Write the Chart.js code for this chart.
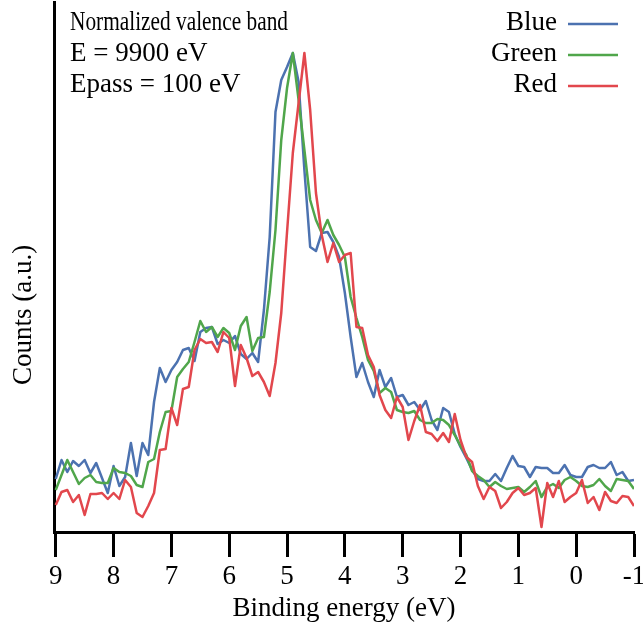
<!DOCTYPE html>
<html>
<head>
<meta charset="utf-8">
<script src="https://cdn.jsdelivr.net/npm/chart.js@4.4.0/dist/chart.umd.min.js"></script>
<style>
  html, body { margin: 0; padding: 0; background: #fff; }
</style>
</head>
<body>
<canvas id="myChart" width="643" height="628"></canvas>
<script>
// binding energy grid (eV), 0.1 eV steps
var energy = [9.0,8.9,8.8,8.7,8.6,8.5,8.4,8.3,8.2,8.1,
              8.0,7.9,7.8,7.7,7.6,7.5,7.4,7.3,7.2,7.1,
              7.0,6.9,6.8,6.7,6.6,6.5,6.4,6.3,6.2,6.1,
              6.0,5.9,5.8,5.7,5.6,5.5,5.4,5.3,5.2,5.1,
              5.0,4.9,4.8,4.7,4.6,4.5,4.4,4.3,4.2,4.1,
              4.0,3.9,3.8,3.7,3.6,3.5,3.4,3.3,3.2,3.1,
              3.0,2.9,2.8,2.7,2.6,2.5,2.4,2.3,2.2,2.1,
              2.0,1.9,1.8,1.7,1.6,1.5,1.4,1.3,1.2,1.1,
              1.0,0.9,0.8,0.7,0.6,0.5,0.4,0.3,0.2,0.1,
              0.0,-0.1,-0.2,-0.3,-0.4,-0.5,-0.6,-0.7,-0.8,-0.9,
              -1.0];

// counts (a.u.)
var blue = [53,72,60,71,66,72,59,69,54,39,
            66,46,55,89,56,89,77,130,164,150,
            162,170,182,184,171,200,204,205,188,192,
            189,196,178,173,179,170,222,295,420,452,
            465,479,450,362,285,281,299,300,290,275,
            239,195,155,169,150,135,162,145,154,135,
            137,127,130,122,131,112,102,124,120,98,
            85,74,62,53,51,51,58,51,64,76,
            66,65,55,65,64,64,59,59,67,57,
            55,55,65,67,64,64,70,57,60,51,
            52];

var green = [42,57,72,60,48,54,57,50,49,49,
             64,60,59,56,47,45,70,73,100,120,
             121,155,163,170,190,211,200,205,195,204,
             199,182,206,215,181,194,195,240,302,392,
             444,479,432,382,332,312,299,312,297,287,
             275,235,214,195,172,161,139,144,140,122,
             120,119,121,112,109,109,113,112,107,97,
             86,77,61,56,52,45,50,46,43,44,
             45,40,45,51,35,45,48,44,52,55,
             51,46,45,47,53,46,41,53,52,51,
             43];

var red = [27,40,42,30,37,17,38,38,39,33,
           39,33,52,45,19,15,26,39,82,83,
           124,107,143,145,182,193,189,190,180,200,
           194,146,187,174,156,160,150,136,169,219,
           300,379,429,479,422,339,297,270,289,270,
           277,279,205,204,177,165,137,122,114,135,
           125,92,111,127,100,98,91,99,90,118,
           92,75,70,46,33,45,41,24,30,39,
           44,37,39,44,5,49,35,51,30,35,
           39,52,29,35,22,40,31,29,36,35,
           26];

var xTicks = [9, 8, 7, 6, 5, 4, 3, 2, 1, 0, -1];
var seriesNames = ['Blue', 'Green', 'Red'];
var seriesColors = ['#4c72b0', '#50a64b', '#e2474d'];
var infoLines = ['Normalized valence band', 'E = 9900 eV', 'Epass = 100 eV'];

var serif = "'Liberation Serif', 'Times New Roman', serif";

function toPoints(ys) {
    return ys.map(function (y, i) { return { x: energy[i], y: y }; });
}

// text box top-left, legend top-right, rotated y title
var overlay = {
    id: 'overlay',
    afterDraw: function (chart) {
        var ctx = chart.ctx;
        ctx.save();
        ctx.fillStyle = '#000';
        ctx.font = '27px ' + serif;
        ctx.textBaseline = 'middle';

        ctx.textAlign = 'left';
        // first line is set narrower in the original
        ctx.fillText(infoLines[0], 70, 23, 218);
        for (var i = 1; i < infoLines.length; i++) {
            ctx.fillText(infoLines[i], 70, 23 + i * 31);
        }

        ctx.textAlign = 'right';
        for (var j = 0; j < seriesNames.length; j++) {
            var y = 23 + j * 31;
            ctx.fillStyle = '#000';
            ctx.fillText(seriesNames[j], 557, y);
            ctx.strokeStyle = seriesColors[j];
            ctx.lineWidth = 2.5;
            ctx.beginPath();
            ctx.moveTo(568, y + 1);
            ctx.lineTo(618, y + 1);
            ctx.stroke();
        }

        ctx.translate(24, 315);
        ctx.rotate(-Math.PI / 2);
        ctx.textAlign = 'center';
        ctx.fillStyle = '#000';
        ctx.fillText('Counts (a.u.)', 0, 0);
        ctx.restore();
    }
};

var ctx = document.getElementById('myChart').getContext('2d');
var chart = new Chart(ctx, {
    type: 'line',
    data: {
        datasets: [
            { label: seriesNames[0], data: toPoints(blue), borderColor: seriesColors[0], order: 3 },
            { label: seriesNames[1], data: toPoints(green), borderColor: seriesColors[1], order: 2 },
            { label: seriesNames[2], data: toPoints(red), borderColor: seriesColors[2], order: 1 }
        ]
    },
    options: {
        responsive: false,
        animation: false,
        layout: { padding: { top: 2, right: 9, left: 0, bottom: 0 }, autoPadding: false },
        elements: {
            line: { borderWidth: 2.5, tension: 0, fill: false, borderJoinStyle: 'round' },
            point: { radius: 0 }
        },
        plugins: {
            legend: { display: false },
            tooltip: { enabled: false }
        },
        scales: {
            x: {
                type: 'linear',
                reverse: true,
                min: -1,
                max: 9.03,
                afterBuildTicks: function (scale) {
                    scale.ticks = xTicks.map(function (v) { return { value: v }; });
                },
                afterFit: function (scale) {
                    scale.height = 96;
                    scale.paddingLeft = 0;
                    scale.paddingRight = 0;
                },
                grid: {
                    display: true,
                    drawOnChartArea: false,
                    drawTicks: true,
                    tickLength: 25,
                    tickWidth: 3,
                    tickColor: '#000'
                },
                border: { display: true, color: '#000', width: 3 },
                ticks: {
                    color: '#000',
                    font: { family: serif, size: 27 },
                    padding: 4,
                    maxRotation: 0,
                    autoSkip: false
                },
                title: {
                    display: true,
                    text: 'Binding energy (eV)',
                    color: '#000',
                    font: { family: serif, size: 27 },
                    padding: { top: 0, bottom: 3 }
                }
            },
            y: {
                min: 0,
                max: 530,
                afterFit: function (scale) { scale.width = 54; },
                grid: { display: false },
                border: { display: true, color: '#000', width: 3 },
                ticks: { display: false }
            }
        }
    },
    plugins: [overlay]
});
</script>
</body>
</html>
